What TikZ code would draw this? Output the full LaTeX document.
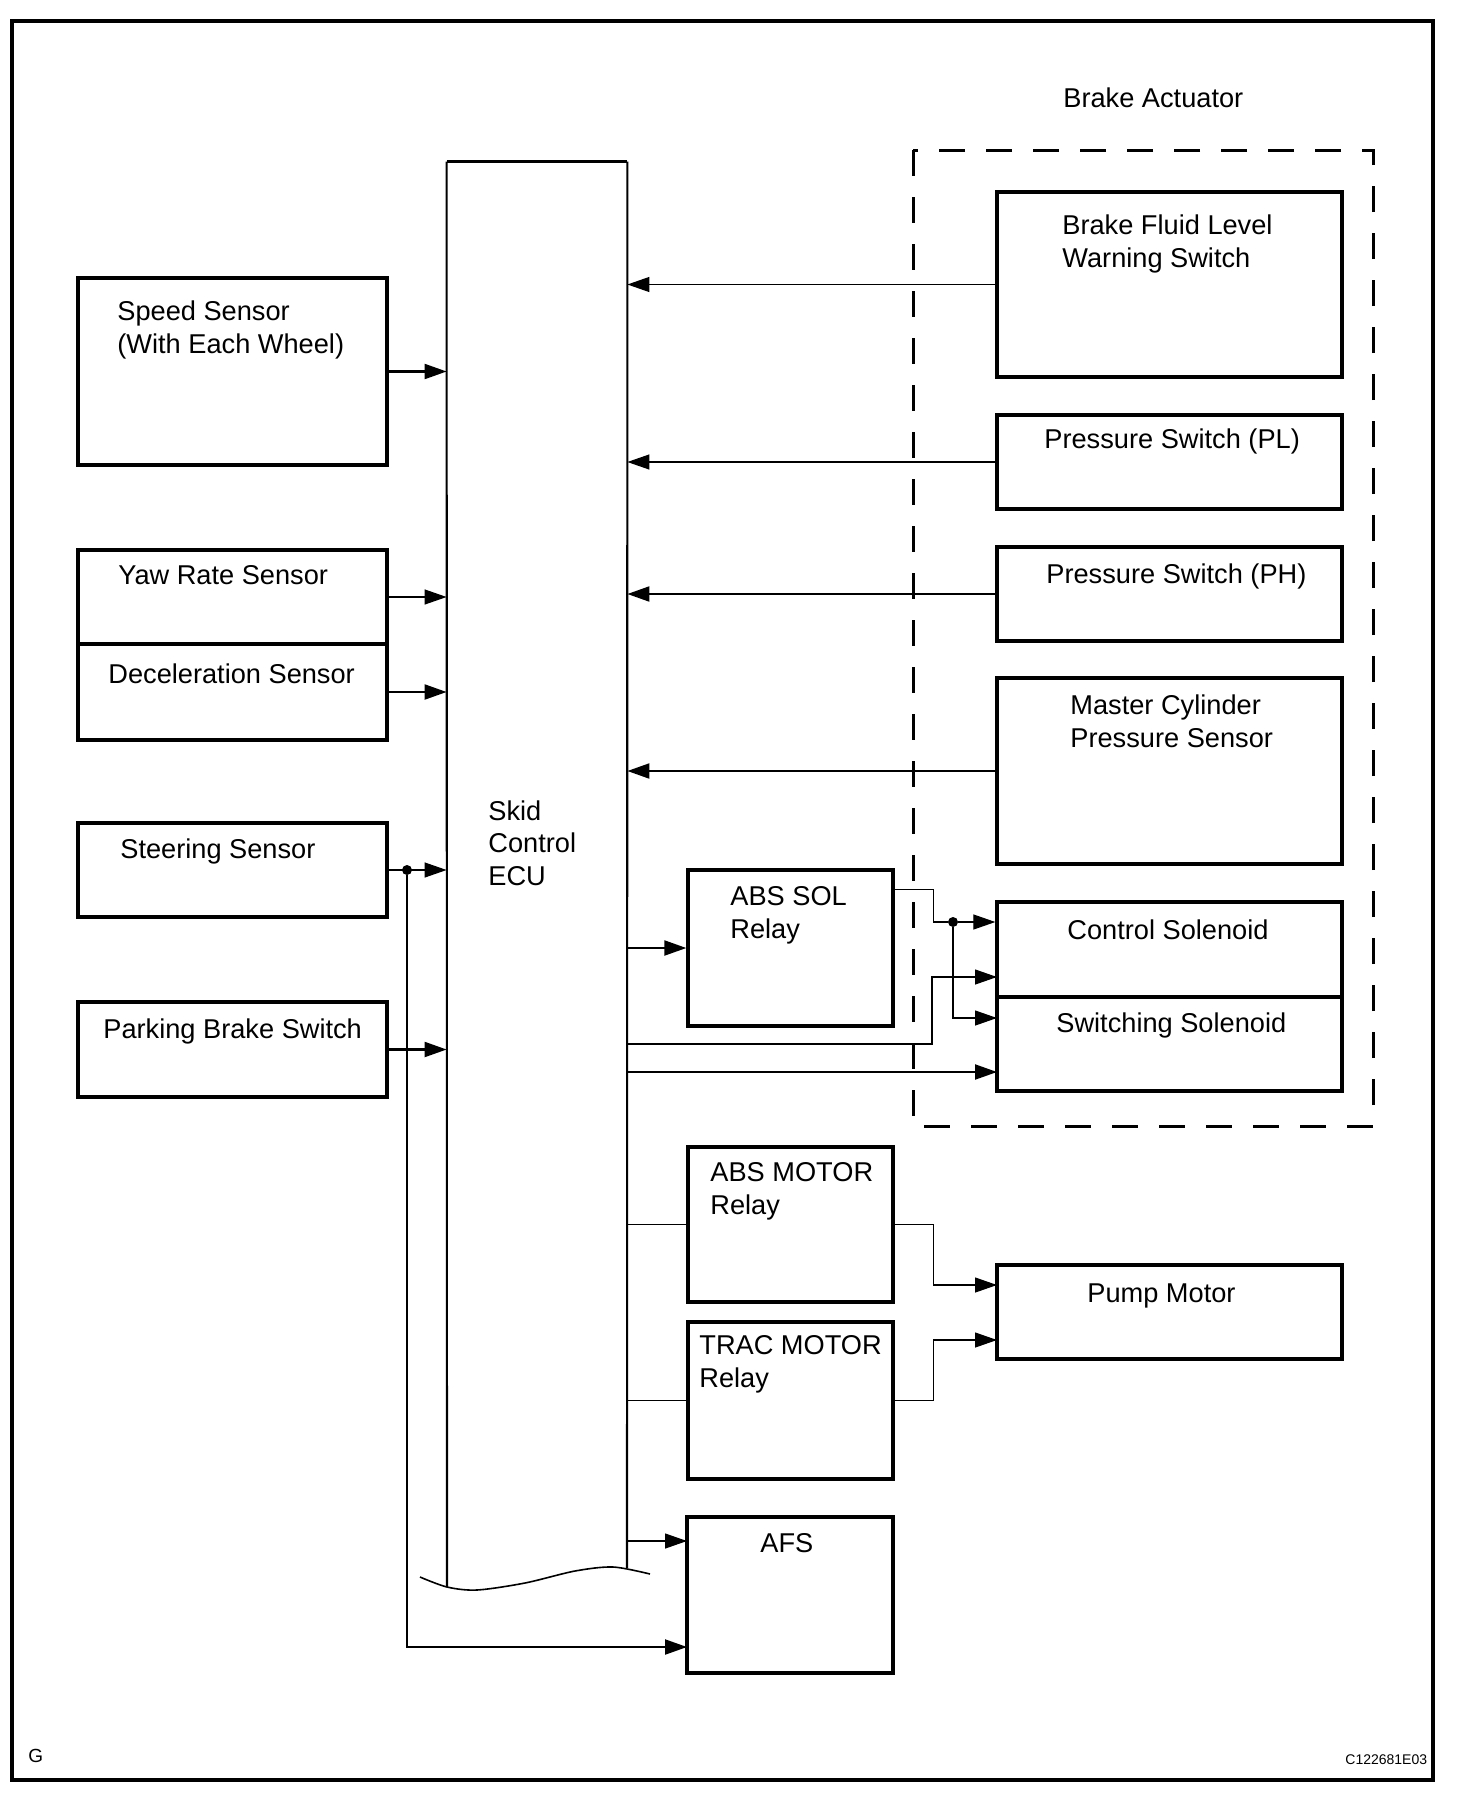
\documentclass[tikz,border=0pt]{standalone}
\usepackage{fontspec}
\setmainfont{Liberation Sans}
\usetikzlibrary{arrows.meta, fit}
\tikzset{unitBox/.style={draw, line width=1.65pt, inner sep=0pt, fit={#1}}}
% base of a multi-line text is the baseline of its last line
\tikzset{boxText/.style={anchor=base west, inner sep=0pt, align=left, font=\fontsize{13.6}{16.25}\selectfont}}
\tikzset{wireThin/.style={line width=0.6pt}}
\tikzset{wireThick/.style={line width=1.05pt}}
\tikzset{feed/.style={-{Triangle[length=11pt, width=7.5pt]}}}
\tikzset{junction/.style={circle, fill, inner sep=0pt, minimum size=5pt}}

\begin{document}
\begin{tikzpicture}[x=0.5pt, y=-0.5pt]

\useasboundingbox (0,0) rectangle (1472,1814);
\draw[line width=1.6pt] (12,21) rectangle (1433,1780);

% Skid Control ECU (open at the bottom)
\node[inner sep=0pt, fit={(447,162) (627,1568)}] (ecu) {};
\coordinate (ecuEndL) at (447,1587);
\coordinate (ecuEndR) at (627,1568);
\draw[line width=1.05pt] (ecuEndL) -- (ecu.north west);
\draw[line width=1.05pt] (ecuEndR) -- (ecu.north east);
\draw[line width=1.65pt] (ecu.north west) -- (ecu.north east);
\draw[line width=0.8pt] plot[smooth] coordinates {(420,1577) (447,1587) (477,1590) (525,1583) (575,1571) (613,1567) (650,1574)};
\node[boxText] (ecuText) at (488,885) {Skid\\Control\\ECU};

% Sensors on the left
\node[unitBox={(78,278) (387,465)}] (speed) {};
\node[boxText] (speedText) at (117,353) {Speed Sensor\\(With Each Wheel)};
\node[unitBox={(78,550) (387,644)}] (yaw) {};
\node[boxText] (yawText) at (118,584) {Yaw Rate Sensor};
\node[unitBox={(78,644) (387,740)}] (decel) {};
\node[boxText] (decelText) at (108,683) {Deceleration Sensor};
\node[unitBox={(78,823) (387,917)}] (steer) {};
\node[boxText] (steerText) at (120,858) {Steering Sensor};
\node[unitBox={(78,1002) (387,1097)}] (parking) {};
\node[boxText] (parkingText) at (103,1038) {Parking Brake Switch};

\draw[wireThick, feed] (speed.east) -- (speed.east -| ecu.west);
\draw[wireThin, feed] (yaw.east) -- (yaw.east -| ecu.west);
\draw[wireThick, feed] (decel.east) -- (decel.east -| ecu.west);
\draw[wireThin, feed] (steer.east) -- (steer.east -| ecu.west);
\draw[wireThick, feed] (parking.east) -- (parking.east -| ecu.west);

% Brake Actuator
\node[boxText] (actuatorText) at (1063,108) {Brake Actuator};
\draw[line width=1.5pt, dash pattern=on 13pt off 10.5pt] (913,150) rectangle (1373,1126);

\node[unitBox={(997,192) (1342,377)}] (fluid) {};
\node[boxText] (fluidText) at (1062,267) {Brake Fluid Level\\Warning Switch};
\node[unitBox={(997,415) (1342,509)}] (pl) {};
\node[boxText] (plText) at (1044,448) {Pressure Switch (PL)};
\node[unitBox={(997,547) (1342,641)}] (ph) {};
\node[boxText] (phText) at (1046,583) {Pressure Switch (PH)};
\node[unitBox={(997,678) (1342,864)}] (master) {};
\node[boxText] (masterText) at (1070,747) {Master Cylinder\\Pressure Sensor};
\node[unitBox={(997,902) (1342,997)}] (ctrlSol) {};
\node[boxText] (ctrlSolText) at (1067,939) {Control Solenoid};
\node[unitBox={(997,997) (1342,1091)}] (switchSol) {};
\node[boxText] (switchSolText) at (1056,1032) {Switching Solenoid};

\draw[wireThin, feed] (fluid.west) -- (fluid.west -| ecu.east);
\draw[wireThin, feed] (pl.west) -- (pl.west -| ecu.east);
\draw[wireThick, feed] (ph.west) -- (ph.west -| ecu.east);
\draw[wireThick, feed] (master.west) -- (master.west -| ecu.east);

% Relays
\node[unitBox={(688,870) (893,1026)}] (absSol) {};
\node[boxText] (absSolText) at (730,938) {ABS SOL\\Relay};
\node[unitBox={(688,1147) (893,1302)}] (absMotor) {};
\node[boxText] (absMotorText) at (710,1214) {ABS MOTOR\\Relay};
\node[unitBox={(688,1322) (893,1479)}] (tracMotor) {};
\node[boxText] (tracMotorText) at (699,1387) {TRAC MOTOR\\Relay};
\node[unitBox={(997,1265) (1342,1359)}] (pump) {};
\node[boxText] (pumpText) at (1087,1302) {Pump Motor};
\node[unitBox={(687,1517) (893,1673)}] (afs) {};
\node[boxText] (afsText) at (760,1552) {AFS};

% inputs of the actuator, pump and AFS
\coordinate (ctrlInB) at (997,977);
\coordinate (switchInA) at (997,1018);
\coordinate (switchInB) at (997,1072);
\coordinate (busB) at (932,1044);
\coordinate (pumpInA) at (997,1285);
\coordinate (pumpInB) at (997,1340);
\coordinate (afsInA) at (687,1541);
\coordinate (afsInB) at (687,1647);

\draw[wireThick, feed] (ecu.east |- absSol.west) -- (absSol.west);
\node[junction] (jctSol) at (953,922) {};
\draw[wireThin] ([yshift=-10.5pt]absSol.north east) -- ++(39,0) |- (jctSol);
\draw[wireThin, feed] (jctSol) -- (jctSol -| ctrlSol.west);
\draw[wireThin, feed] (jctSol) |- (switchInA);
\draw[wireThin, feed] (ecu.east |- busB) -- (busB) |- (ctrlInB);
\draw[wireThick, feed] (ecu.east |- switchInB) -- (switchInB);

\draw[wireThin] (ecu.east |- absMotor.west) -- (absMotor.west);
\draw[wireThin, feed] (absMotor.east) -- ++(39,0) |- (pumpInA);
\draw[wireThin] (ecu.east |- tracMotor.west) -- (tracMotor.west);
\draw[wireThin, feed] (tracMotor.east) -- ++(39,0) |- (pumpInB);

\draw[wireThin, feed] (ecu.east |- afsInA) -- (afsInA);
\node[junction] (jctSteer) at (407,870) {};
\draw[wireThick, feed] (jctSteer) |- (afsInB);

\node[anchor=base west, inner sep=0pt, font=\fontsize{9.5}{10}\selectfont] (sheetMark) at (28,1762) {G};
\node[anchor=base west, inner sep=0pt, font=\fontsize{7}{8}\selectfont] (figCode) at (1345,1764) {C122681E03};

\end{tikzpicture}
\end{document}
